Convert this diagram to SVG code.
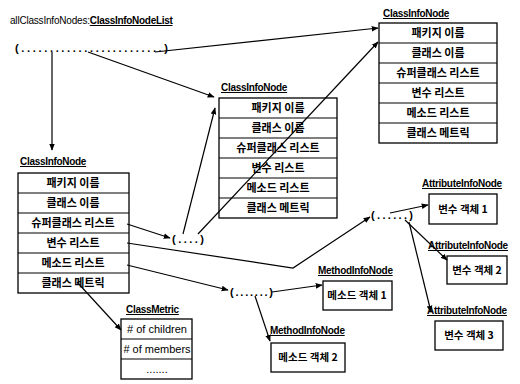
<svg xmlns="http://www.w3.org/2000/svg" width="520" height="384" viewBox="0 0 520 384">
<style>
.t{font-family:"Liberation Sans",Arial,sans-serif;font-size:10px;fill:#000;letter-spacing:-0.2px}
.lb{font-family:"Liberation Sans",Arial,sans-serif;font-size:10px;font-weight:bold;text-decoration:underline;fill:#000;letter-spacing:-0.3px}
.k{font-family:"Noto Sans CJK KR","Liberation Sans",sans-serif;font-size:11px;font-weight:bold;fill:#000;text-anchor:middle}
.o{font-family:"Noto Sans CJK KR","Liberation Sans",sans-serif;font-size:10.5px;font-weight:bold;fill:#000;text-anchor:middle}
.e{font-family:"Liberation Sans",Arial,sans-serif;font-size:11px;fill:#000;text-anchor:middle}
.d{font-family:"Liberation Sans",Arial,sans-serif;font-size:11px;font-weight:bold;fill:#000}
.b{fill:#fff;stroke:#000;stroke-width:1.3}
.c{fill:none;stroke:#000;stroke-width:1.2}
</style>
<defs>
<marker id="a" viewBox="0 0 10 10" refX="9" refY="5" markerWidth="7" markerHeight="7" orient="auto" markerUnits="userSpaceOnUse">
<path d="M0,1 L10,5 L0,9 z" fill="#000"/>
</marker>
</defs>
<rect width="520" height="384" fill="#fff"/>

<g id="list-main">
<text class="t" x="10" y="24">allClassInfoNodes:<tspan font-weight="bold" text-decoration="underline" letter-spacing="-0.3">ClassInfoNodeList</tspan></text>
<text class="d" x="15" y="52" textLength="153" lengthAdjust="spacing">(.........................)</text>
</g>

<g id="node-left">
<text class="lb" x="20" y="165">ClassInfoNode</text>
<rect class="b" x="18" y="173" width="111" height="120"/>
<path class="c" d="M18,193H129M18,213H129M18,233H129M18,253H129M18,273H129"/>
<text class="k" x="73" y="187">패키지 이름</text>
<text class="k" x="73" y="207">클래스 이름</text>
<text class="k" x="73" y="227">슈퍼클래스 리스트</text>
<text class="k" x="73" y="247">변수 리스트</text>
<text class="k" x="73" y="267">메소드 리스트</text>
<text class="k" x="73" y="287">클래스 메트릭</text>
</g>

<g id="node-middle">
<text class="lb" x="221" y="91">ClassInfoNode</text>
<rect class="b" x="219" y="98" width="118" height="120"/>
<path class="c" d="M219,118H337M219,138H337M219,158H337M219,178H337M219,198H337"/>
<text class="k" x="278" y="112">패키지 이름</text>
<text class="k" x="278" y="132">클래스 이름</text>
<text class="k" x="278" y="152">슈퍼클래스 리스트</text>
<text class="k" x="278" y="172">변수 리스트</text>
<text class="k" x="278" y="192">메소드 리스트</text>
<text class="k" x="278" y="212">클래스 메트릭</text>
</g>

<g id="node-topright">
<text class="lb" x="383" y="17">ClassInfoNode</text>
<rect class="b" x="379" y="23" width="118" height="120"/>
<path class="c" d="M379,43H497M379,63H497M379,83H497M379,103H497M379,123H497"/>
<text class="k" x="438" y="37">패키지 이름</text>
<text class="k" x="438" y="57">클래스 이름</text>
<text class="k" x="438" y="77">슈퍼클래스 리스트</text>
<text class="k" x="438" y="97">변수 리스트</text>
<text class="k" x="438" y="117">메소드 리스트</text>
<text class="k" x="438" y="137">클래스 메트릭</text>
</g>

<g id="list-super">
<text class="d" x="172" y="243" textLength="32" lengthAdjust="spacing">(....)</text>
</g>

<g id="list-attr">
<text class="d" x="371" y="219" textLength="42" lengthAdjust="spacing">(......)</text>
</g>

<g id="list-method">
<text class="d" x="230" y="296" textLength="43" lengthAdjust="spacing">(.......)</text>
</g>

<g id="attr-1">
<text class="lb" x="422" y="187">AttributeInfoNode</text>
<rect class="b" x="429" y="194" width="68" height="30"/>
<text class="o" x="463" y="213">변수 객체 1</text>
</g>

<g id="attr-2">
<text class="lb" x="428" y="249">AttributeInfoNode</text>
<rect class="b" x="447" y="256" width="60" height="28"/>
<text class="o" x="477" y="274">변수 객체 2</text>
</g>

<g id="attr-3">
<text class="lb" x="427" y="314">AttributeInfoNode</text>
<rect class="b" x="435" y="321" width="68" height="29"/>
<text class="o" x="469" y="339">변수 객체 3</text>
</g>

<g id="method-1">
<text class="lb" x="318" y="274">MethodInfoNode</text>
<rect class="b" x="323" y="281" width="69" height="29"/>
<text class="o" x="357" y="299">메소드 객체 1</text>
</g>

<g id="method-2">
<text class="lb" x="270" y="334">MethodInfoNode</text>
<rect class="b" x="271" y="343" width="74" height="29"/>
<text class="o" x="308" y="361">메소드 객체 2</text>
</g>

<g id="class-metric">
<text class="lb" x="126" y="313">ClassMetric</text>
<rect class="b" x="121" y="319" width="71" height="60"/>
<path class="c" d="M121,339H192M121,359H192"/>
<text class="e" x="157" y="333"># of children</text>
<text class="e" x="157" y="353"># of members</text>
<text class="e" x="157" y="373">.......</text>
</g>

<g id="connectors">
<path class="c" marker-end="url(#a)" d="M155,52L378,28"/>
<path class="c" marker-end="url(#a)" d="M88,52L214,97"/>
<path class="c" marker-end="url(#a)" d="M52,52L52,150"/>
<path class="c" marker-end="url(#a)" d="M127,224L170,238"/>
<path class="c" marker-end="url(#a)" d="M183,234L215,108"/>
<path class="c" marker-end="url(#a)" d="M198,234L378,42"/>
<path class="c" marker-end="url(#a)" d="M127,243L293,268L370,217"/>
<path class="c" marker-end="url(#a)" d="M390,213L428,205"/>
<path class="c" marker-end="url(#a)" d="M405,220L447,260"/>
<path class="c" marker-end="url(#a)" d="M409,222L431,312"/>
<path class="c" marker-end="url(#a)" d="M127,265L228,290"/>
<path class="c" marker-end="url(#a)" d="M272,292L322,285"/>
<path class="c" marker-end="url(#a)" d="M255,296L270,341"/>
<path class="c" marker-end="url(#a)" d="M77,282L121,330"/>
</g>
</svg>
